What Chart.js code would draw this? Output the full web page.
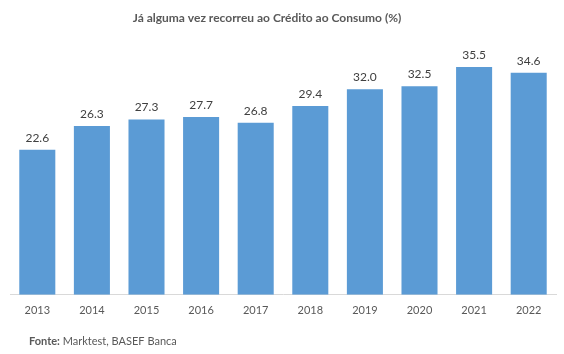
<!DOCTYPE html>
<html><head><meta charset="utf-8">
<script src="https://cdn.jsdelivr.net/npm/chart.js@4"></script>
<style>html,body{margin:0;padding:0;background:#fff}#w{width:564px;height:354px}</style>
</head><body><div id="w"><canvas id="c" width="564" height="354"></canvas></div>
<script>
const categories = ["2013","2014","2015","2016","2017","2018","2019","2020","2021","2022"];
const values = [22.6,26.3,27.3,27.7,26.8,29.4,32.0,32.5,35.5,34.6];
const titleText = "Já alguma vez recorreu ao Crédito ao Consumo (%)";
const sourceLabel = "Fonte:";
const sourceText = " Marktest, BASEF Banca";
const FONT = "Lato, 'Open Sans', sans-serif";

const extras = {
  id: 'extras',
  afterDatasetsDraw(chart) {
    const ctx = chart.ctx;
    const meta = chart.getDatasetMeta(0);
    ctx.save();
    ctx.fillStyle = '#404040';
    ctx.font = "12px " + FONT;
    ctx.textAlign = 'center';
    ctx.textBaseline = 'middle';
    meta.data.forEach((bar, i) => {
      ctx.fillText(values[i].toFixed(1), bar.x, bar.y - 12);
    });
    ctx.restore();
  },
  afterDraw(chart) {
    const ctx = chart.ctx;
    ctx.save();
    ctx.fillStyle = '#595959';
    ctx.textBaseline = 'middle';
    ctx.font = "bold 12px " + FONT;
    ctx.textAlign = 'center';
    ctx.fillText(titleText, 267, 18);
    ctx.textAlign = 'left';
    ctx.font = "bold 11px " + FONT;
    ctx.fillText(sourceLabel, 29, 341);
    const w = ctx.measureText(sourceLabel).width;
    ctx.font = "11px " + FONT;
    ctx.fillText(sourceText, 29 + w, 341);
    ctx.restore();
  }
};

new Chart(document.getElementById('c'), {
  type: 'bar',
  data: {
    labels: categories,
    datasets: [{
      data: values,
      backgroundColor: '#5B9BD5',
      borderWidth: 0,
      categoryPercentage: 0.66,
      barPercentage: 1.0
    }]
  },
  options: {
    responsive: false,
    animation: false,
    layout: { padding: { top: 38, left: 10, right: 8, bottom: 28 } },
    plugins: { legend: { display: false }, title: { display: false }, tooltip: { enabled: false } },
    scales: {
      x: {
        grid: { display: false, drawTicks: false },
        border: { display: true, color: '#D9D9D9', width: 1 },
        ticks: { color: '#595959', font: { family: FONT, size: 11 }, padding: 9, maxRotation: 0 }
      },
      y: {
        display: false,
        min: 0, max: 40
      }
    }
  },
  plugins: [extras]
});
</script>
</body></html>
